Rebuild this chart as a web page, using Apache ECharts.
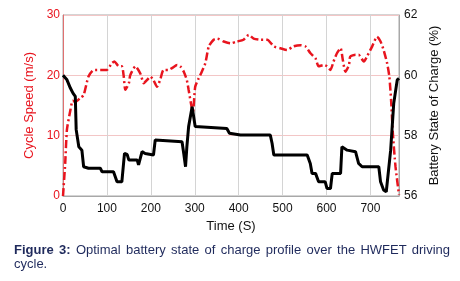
<!DOCTYPE html>
<html>
<head>
<meta charset="utf-8">
<script src="https://cdn.jsdelivr.net/npm/echarts@6/dist/echarts.min.js"></script>
<style>
    body { margin: 0; background: #fff; }
    #chart { position: absolute; left: 0; top: 0; width: 460px; height: 281px; }
    #caption {
        position: absolute; left: 14px; top: 243px; width: 436px;
        font-family: "Liberation Sans", Arial, sans-serif; font-size: 13px; line-height: 14px;
        color: #1f2a5c; text-align: justify;
    }
    #caption b { font-weight: bold; }
</style>
</head>
<body>
<div id="chart"></div>
<div id="caption"><b>Figure 3:</b> Optimal battery state of charge profile over the HWFET driving cycle.</div>
<script>
// cycle speed (m/s) vs time (s)
var speedTime = [0, 5, 9, 17, 22, 28, 40, 47, 58, 70, 85, 100, 111, 117, 127, 134, 138, 142, 150, 153,
    165, 176, 184, 191, 199, 206, 214, 221, 229, 240, 248, 260, 267, 275, 282, 286, 292, 296, 301, 309,
    316, 324, 332, 343, 351, 366, 381, 396, 411, 423, 434, 449, 465, 480, 495, 510, 525, 541, 552, 563,
    575, 582, 594, 601, 609, 616, 624, 632, 637, 643, 651, 654, 666, 673, 685, 692, 704, 715, 723, 730,
    738, 743, 747, 751, 757, 765];
var speed = [0, 5.4, 11, 14.3, 15.8, 15.6, 16.3, 16.7, 19.8, 20.9, 20.9, 20.9, 22, 22.3, 21.5, 21.5, 20, 17.6, 18.7, 20,
    21.5, 20.3, 18.7, 19.2, 19.8, 19.2, 18.1, 19.2, 20.9, 20.9, 21.2, 21.7, 21.5, 20.6, 19.2, 17.6, 15.1, 14, 18.1, 19.5,
    20.6, 22, 24.8, 25.9, 26.1, 25.6, 25.3, 25.6, 25.9, 26.7, 26.1, 25.9, 25.9, 24.8, 24.5, 24.2, 24.8, 25, 24.8, 23.7,
    22.8, 21.5, 21.7, 21.5, 20.9, 22.3, 23.7, 24.5, 22.6, 20.6, 21.7, 23.1, 23.4, 23.4, 22.3, 23.1, 24.8, 26.4, 25.6, 24.2,
    22, 19.8, 15.9, 10.4, 4.9, 0.2];

// battery state of charge (%) vs time (s)
var socTime = [0, 9, 17, 23, 28, 30, 36, 43, 47, 58, 85, 89, 115, 123, 134, 140, 146, 150, 169, 172,
    176, 180, 187, 191, 206, 210, 214, 271, 275, 279, 282, 286, 294, 296, 301, 305, 373, 379, 404, 472,
    476, 480, 556, 563, 567, 575, 582, 597, 601, 609, 613, 632, 635, 647, 666, 673, 681, 719, 723, 730,
    736, 746, 753, 761, 765];
var soc = [60, 59.85, 59.57, 59.4, 59.3, 58.2, 57.63, 57.52, 56.97, 56.92, 56.92, 56.8, 56.8, 56.47, 56.47, 57.41, 57.38, 57.19, 57.19, 57.03,
    57.0, 57.47, 57.41, 57.36, 57.36, 57.86, 57.8, 57.8, 57.4, 56.97, 57.63, 58.3, 58.96, 59.0, 58.3, 58.24, 58.24, 58.08, 58.02, 58.02,
    57.75, 57.36, 57.36, 57.08, 56.75, 56.75, 56.47, 56.47, 56.25, 56.25, 56.75, 56.75, 57.63, 57.52, 57.47, 57.08, 56.97, 56.97, 56.47, 56.2,
    56.14, 57.52, 59.07, 59.85, 59.9];

function pairs(xs, ys) {
    var out = [];
    for (var i = 0; i < xs.length; i++) out.push([xs[i], ys[i]]);
    return out;
}

var red = "#e8141e";
var font = "Liberation Sans";

var chart = echarts.init(document.getElementById("chart"));

chart.setOption({
    animation: false,
    grid: {
        left: 63, right: 61, top: 15, bottom: 85,
        show: true, borderColor: "#a8a8a8", borderWidth: 1
    },
    xAxis: {
        type: "value", min: 0, max: 765, interval: 100,
        name: "Time (S)", nameLocation: "middle", nameGap: 23,
        nameTextStyle: { fontFamily: font, fontSize: 13, color: "#111" },
        axisLine: { lineStyle: { color: "#a8a8a8" } },
        axisTick: { show: false },
        axisLabel: { fontFamily: font, fontSize: 12, color: "#111", margin: 7, showMaxLabel: false },
        splitLine: { lineStyle: { color: "#d4d4d4" } }
    },
    yAxis: [{
        type: "value", min: 0, max: 30, interval: 10,
        name: "Cycle Speed (m/s)", nameLocation: "middle", nameGap: 20, nameRotate: 90,
        nameTextStyle: { fontFamily: font, fontSize: 13, color: red },
        axisLine: { show: true, lineStyle: { color: "#e07070" } },
        axisTick: { show: false },
        axisLabel: { fontFamily: font, fontSize: 12, color: red, margin: 3 },
        splitLine: { lineStyle: { color: "#f3c6c6" } }
    }, {
        type: "value", min: 56, max: 62, interval: 2, position: "right",
        name: "Battery State of Charge (%)", nameLocation: "middle", nameGap: 19, nameRotate: 90,
        nameTextStyle: { fontFamily: font, fontSize: 13, color: "#111" },
        axisLine: { show: true, lineStyle: { color: "#a8a8a8" } },
        axisTick: { show: false },
        axisLabel: { fontFamily: font, fontSize: 12, color: "#111", margin: 5 },
        splitLine: { show: false }
    }],
    series: [{
        type: "line", yAxisIndex: 0, showSymbol: false, smooth: 0.2,
        data: pairs(speedTime, speed),
        lineStyle: { color: red, width: 2.5, type: [8, 3, 2, 3] }
    }, {
        type: "line", yAxisIndex: 1, showSymbol: false,
        data: pairs(socTime, soc),
        lineStyle: { color: "#000", width: 3 }
    }]
});
</script>
</body>
</html>
